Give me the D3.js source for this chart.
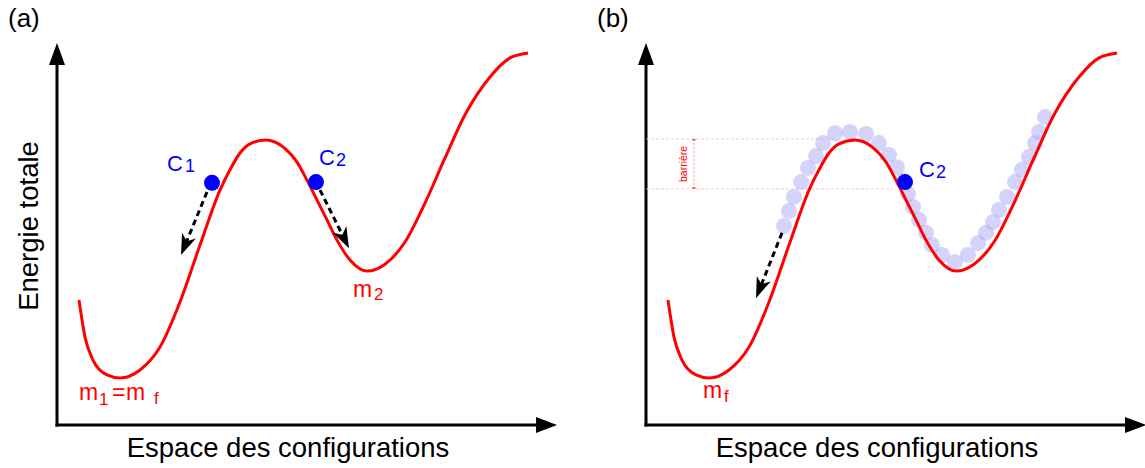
<!DOCTYPE html>
<html><head><meta charset="utf-8">
<script src="https://cdn.jsdelivr.net/npm/d3@7"></script>
<style>body{margin:0;background:#fff}svg{display:block}text{font-family:"Liberation Sans",Arial,sans-serif}</style>
</head><body><svg id="c" width="1145" height="468"></svg>
<script>
// energy landscape (configuration coordinate, energy), arbitrary units 0..100
const curveC = [4.4, 5.6, 7.2, 10, 12.6, 16.6, 20.6, 24.6, 28.6, 32.6, 34.6, 36.6, 38.6, 41.8, 45.2, 48, 50, 52, 54, 56, 58.6, 62, 65.6, 69.6, 73.6, 77.6, 81.6, 86.6, 90.6, 94.2];
const curveE = [32.7, 23.0, 17.0, 13.1, 12.3, 14.4, 20.4, 32.2, 47.1, 61.5, 66.8, 71.2, 73.6, 74.6, 72.8, 68.8, 64.1, 58.9, 53.7, 48.4, 43.2, 40.3, 42.1, 47.9, 58.1, 69.9, 81.2, 91.1, 96.1, 97.4];
// explored configurations (panel b)
const trailC = [27.6, 28.6, 29.6, 31, 32.4, 34, 35.4, 37.8, 40.8, 44, 46.6, 48.6, 50.2, 51.4, 52.4, 53.4, 54.6, 56, 57.2, 59.2, 61.8, 64.4, 66.4, 68, 69.4, 70.6, 72.2, 73.8, 75.2, 76.6, 77.8, 78.6, 79.8];
const trailE = [52.1, 56, 59.7, 63.6, 67.3, 70.4, 73.8, 76.4, 76.7, 76.2, 73.8, 70.7, 67.5, 63.9, 60.5, 57.1, 53.7, 50.3, 47.1, 44.5, 42.7, 44.5, 47.6, 50.3, 53.1, 56.3, 59.7, 63.6, 66.8, 70.2, 73.8, 76.7, 80.6];
// configurations C1, C2
const configNames = ["1", "2"];
const configC = [31, 51.8];
const configE = [63.4, 63.6];
// relaxation arrows [fromC, fromE, toC, toE]
const arrowsA = [[30, 61, 24.8, 44.5], [52.6, 61.5, 58.4, 46.3]];
const arrowsB = [[27.2, 50.3, 22, 33.2]];
// barrier levels (panel b)
const barrierTop = 74.9, barrierBottom = 61.8;
const panelLabels = ["(a)", "(b)"];
const xTitle = "Espace des configurations";
const yTitle = "Energie totale";

const svg = d3.select("#c");
const RED = "#ff0000", BLUE = "#0000ff";

function drawPanel(x0, panel) {
  const x = d3.scaleLinear().domain([0, 100]).range([x0, x0 + 500]);
  const y = d3.scaleLinear().domain([0, 100]).range([425, 43]);
  const g = svg.append("g");

  // axes
  g.append("line").attr("x1", x(0)).attr("y1", y(0) + 1.5).attr("x2", x(0)).attr("y2", y(100) + 18)
    .attr("stroke", "#000").attr("stroke-width", 3);
  g.append("path").attr("d", `M${x(0)},${y(100)}L${x(0)-8},${y(100)+22}L${x(0)+8},${y(100)+22}Z`).attr("fill", "#000");
  g.append("line").attr("x1", x(0) - 1.5).attr("y1", y(0)).attr("x2", x(100) - 18).attr("y2", y(0))
    .attr("stroke", "#000").attr("stroke-width", 3);
  g.append("path").attr("d", `M${x(100)},${y(0)}L${x(100)-21},${y(0)-8}L${x(100)-21},${y(0)+8}Z`).attr("fill", "#000");

  g.append("text").attr("x", x0 - 49).attr("y", 27).attr("font-size", 26).text(panelLabels[panel]);
  g.append("text").attr("x", x(46.2)).attr("y", 457).attr("text-anchor", "middle").attr("font-size", 27.5).text(xTitle);

  const curveData = curveC.map((c, i) => ({c, e: curveE[i]}));
  const line = d3.line().x(d => x(d.c)).y(d => y(d.e)).curve(d3.curveMonotoneX);

  if (panel === 1) {
    // barrier
    const pink = "#ffb8b8";
    g.append("line").attr("x1", x(0)).attr("x2", x(38.2)).attr("y1", y(barrierTop)).attr("y2", y(barrierTop))
      .attr("stroke", pink).attr("stroke-width", 0.8).attr("stroke-dasharray", "3,2");
    g.append("line").attr("x1", x(0)).attr("x2", x(49.4)).attr("y1", y(barrierBottom)).attr("y2", y(barrierBottom))
      .attr("stroke", pink).attr("stroke-width", 0.8).attr("stroke-dasharray", "3,2");
    g.append("line").attr("x1", x(9.6)).attr("x2", x(9.6)).attr("y1", y(barrierTop)).attr("y2", y(barrierBottom))
      .attr("stroke", "#ff7777").attr("stroke-width", 0.8).attr("stroke-dasharray", "2,2");
    [barrierTop, barrierBottom].forEach(v => g.append("line").attr("x1", x(9.6) - 1.5).attr("x2", x(9.6) + 1.5)
      .attr("y1", y(v) + (v === barrierTop ? 1 : -1)).attr("y2", y(v) + (v === barrierTop ? 1 : -1))
      .attr("stroke", "#ff3333").attr("stroke-width", 1.5));
    g.append("text").attr("transform", `translate(${x(9.6) - 7},${(y(barrierTop) + y(barrierBottom)) / 2}) rotate(-90)`)
      .attr("text-anchor", "middle").attr("font-size", 10.5).attr("fill", RED).text("barrière");
    // trail of explored configurations
    g.selectAll("circle.trail").data(trailC.map((c, i) => ({c, e: trailE[i]}))).join("circle")
      .attr("class", "trail").attr("cx", d => x(d.c)).attr("cy", d => y(d.e)).attr("r", 8)
      .attr("fill", "#aaaaf5").attr("fill-opacity", 0.5);
  }

  g.append("path").datum(curveData).attr("d", line).attr("fill", "none").attr("stroke", RED).attr("stroke-width", 3);

  // arrows
  const arrows = panel === 0 ? arrowsA : arrowsB;
  arrows.forEach(a => {
    const sx = x(a[0]), sy = y(a[1]), tx = x(a[2]), ty = y(a[3]);
    const ang = Math.atan2(ty - sy, tx - sx);
    const ex = tx - 14 * Math.cos(ang), ey = ty - 14 * Math.sin(ang);
    g.append("line").attr("x1", sx).attr("y1", sy).attr("x2", ex).attr("y2", ey)
      .attr("stroke", "#000").attr("stroke-width", 3).attr("stroke-dasharray", "6,4");
    g.append("path").attr("d", "M0,0L-21,-7.5L-15,0L-21,7.5Z").attr("fill", "#000")
      .attr("transform", `translate(${tx},${ty}) rotate(${ang * 180 / Math.PI})`);
  });

  // configuration dots
  const idx = panel === 0 ? [0, 1] : [1];
  idx.forEach(i => {
    g.append("circle").attr("cx", x(configC[i])).attr("cy", y(configE[i])).attr("r", 8).attr("fill", BLUE);
  });

  // labels: parts = [[text, dxFromAnchor, dy, size]]
  function label(c, e, color, parts) {
    const ax = x(c), ay = y(e);
    parts.forEach(p => g.append("text").attr("x", ax + p[1]).attr("y", ay + p[2])
      .attr("font-size", p[3]).attr("fill", color).text(p[0]));
  }
  if (panel === 0) {
    label(22, 66.5, BLUE, [["C", 0, 0, 22], [configNames[0], 18, 1, 18]]);
    label(52.4, 68.1, BLUE, [["C", 0, 0, 22], [configNames[1], 17, 1, 18]]);
    label(59.2, 33.5, RED, [["m", 0, 0, 23], ["2", 21, 3, 17]]);
    label(4.4, 6.5, RED, [["m", 0, 0, 23], ["1", 20, 5, 17], ["=", 33, 0, 23], ["m", 47, 0, 23], ["f", 75, 4, 17]]);
  } else {
    label(54.6, 64.9, BLUE, [["C", 0, 0, 22], [configNames[1], 17, 1, 18]]);
    label(11.4, 7.1, RED, [["m", 0, 0, 23], ["f", 21, 4, 17]]);
  }
  if (panel === 0)
    g.append("text").attr("transform", `translate(${x0 - 19},226) rotate(-90)`).attr("text-anchor", "middle")
      .attr("font-size", 27.5).text(yTitle);
}
drawPanel(57, 0);
drawPanel(646, 1);
</script></body></html>
